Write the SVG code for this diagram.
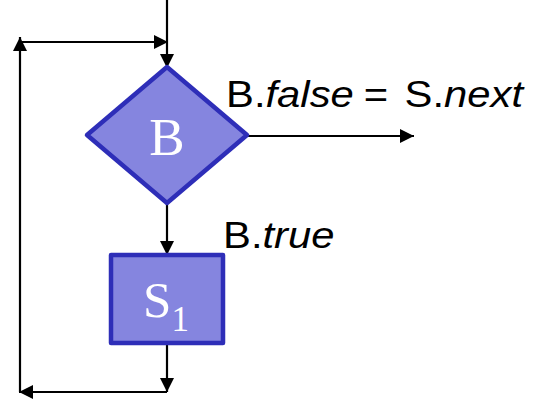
<svg xmlns="http://www.w3.org/2000/svg" width="536" height="399" viewBox="0 0 536 399">
<style>
.edge{fill:none;stroke:#000;stroke-width:2.2}
.shape{fill:#8585DF;stroke:#2E2EB8;stroke-width:4.5;stroke-linejoin:round}
.lbl{font-family:"Liberation Sans",Arial,sans-serif;font-size:37px;fill:#000}
.it{font-style:italic}
.nodetxt{font-family:"Liberation Serif","Times New Roman",serif;fill:#fff}
</style>
<defs>
<marker id="ah" markerUnits="userSpaceOnUse" markerWidth="16" markerHeight="16" viewBox="0 0 16 16" refX="15" refY="8" orient="auto">
<path d="M1,1 L15,8 L1,15 Z" fill="#000"/>
</marker>
</defs>
<rect width="536" height="399" fill="#fff"/>
<g id="connectors">
<path class="edge" d="M167,0 V68" marker-end="url(#ah)"/>
<path class="edge" d="M246,136 H414" marker-end="url(#ah)"/>
<path class="edge" d="M167,203 V255" marker-end="url(#ah)"/>
<path class="edge" d="M167,343 V392" marker-end="url(#ah)"/>
<path class="edge" d="M167,392 H19" marker-end="url(#ah)"/>
<path class="edge" d="M20,392 V37" marker-end="url(#ah)"/>
<path class="edge" d="M20,42 H168" marker-end="url(#ah)"/>
</g>
<g id="node-B">
<path class="shape" d="M167,67 L247,135 L167,203 L87,135 Z"/>
<text class="nodetxt" x="167" y="155" font-size="53" text-anchor="middle">B</text>
</g>
<g id="node-S1">
<rect class="shape" x="111" y="255" width="112" height="88"/>
<text class="nodetxt" x="143" y="317" font-size="51">S<tspan font-size="35" dy="14">1</tspan></text>
</g>
<g id="labels">
<text class="lbl" transform="translate(226,107) scale(1.13,1)">B.<tspan class="it">false</tspan><tspan x="122">=</tspan><tspan x="158">S.</tspan><tspan class="it">next</tspan></text>
<text class="lbl" transform="translate(223,248) scale(1.13,1)">B.<tspan class="it">true</tspan></text>
</g>
</svg>
